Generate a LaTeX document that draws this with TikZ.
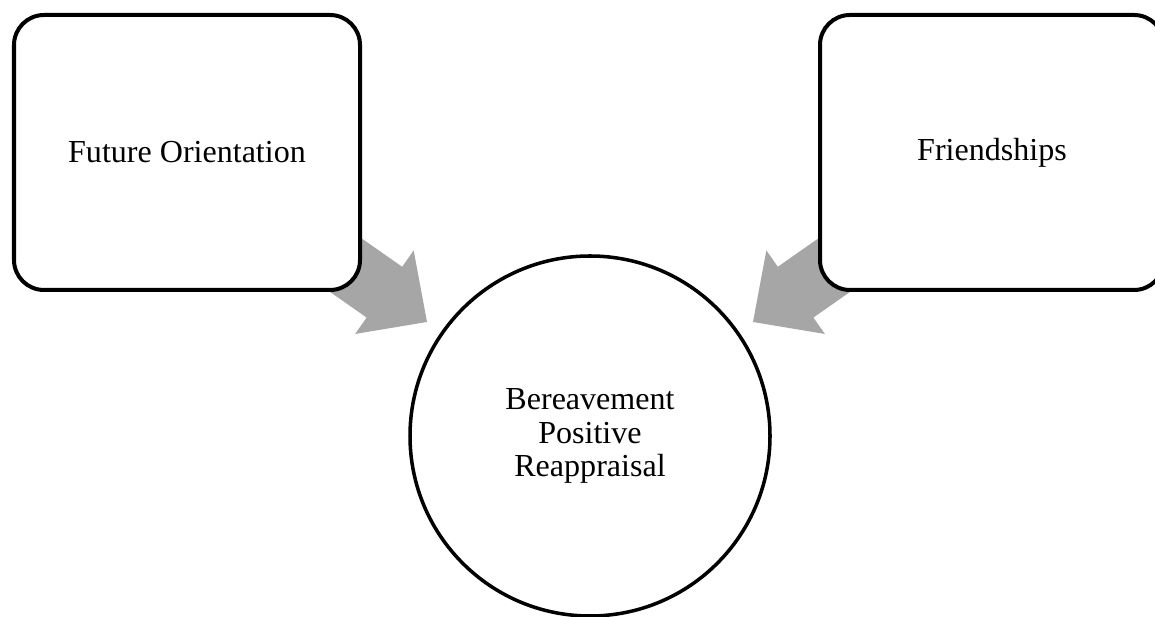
\documentclass[tikz,border=0pt]{standalone}
\usepackage{fontspec}
\setmainfont{Liberation Serif}
\usepackage{tikz}
\usetikzlibrary{positioning}
\usepackage{xcolor}
\definecolor{arrowgray}{RGB}{166,166,166}

\tikzset{
	bigbox/.style={draw=black, line width=2.85pt, fill=white, rounded corners=0.75cm,
		minimum width=8.65cm, minimum height=6.875cm, inner sep=0pt, font=\fontsize{22.8pt}{23.5pt}\selectfont},
	bigcircle/.style={draw=black, line width=2.5pt, fill=white, circle, minimum size=9cm,
		inner sep=0pt, align=center, font=\fontsize{22.8pt}{23.8pt}\selectfont}
}

\begin{document}
\begin{tikzpicture}
				\useasboundingbox (0,0) rectangle (28.875,15.425);
				\clip (0,0) rectangle (28.875,15.425);
				% block arrows (tails hidden behind the boxes)
				\coordinate (lefttip) at (10.675,7.375);
				\coordinate (righttip) at (18.825,7.375);
				\fill[arrowgray, shift={(lefttip)}, rotate=-35] (0,0) -- (-1.3,1.275) -- (-1.3,0.775) -- (-3.75,0.775) -- (-3.75,-0.775) -- (-1.3,-0.775) -- (-1.3,-1.275) -- cycle;
				\fill[arrowgray, shift={(righttip)}, rotate=215] (0,0) -- (-1.3,1.275) -- (-1.3,0.775) -- (-3.75,0.775) -- (-3.75,-0.775) -- (-1.3,-0.775) -- (-1.3,-1.275) -- cycle;
				% boxes and circle
				\node[bigbox] (future) at (4.675,11.6125) {Future Orientation};
				\node[bigbox, minimum width=8.6cm] (friends) at (24.8,11.6125) {Friendships};
				\node[bigcircle] (bereave) at (14.75,4.525) {Bereavement\\Positive\\Reappraisal};
			\end{tikzpicture}
\end{document}
